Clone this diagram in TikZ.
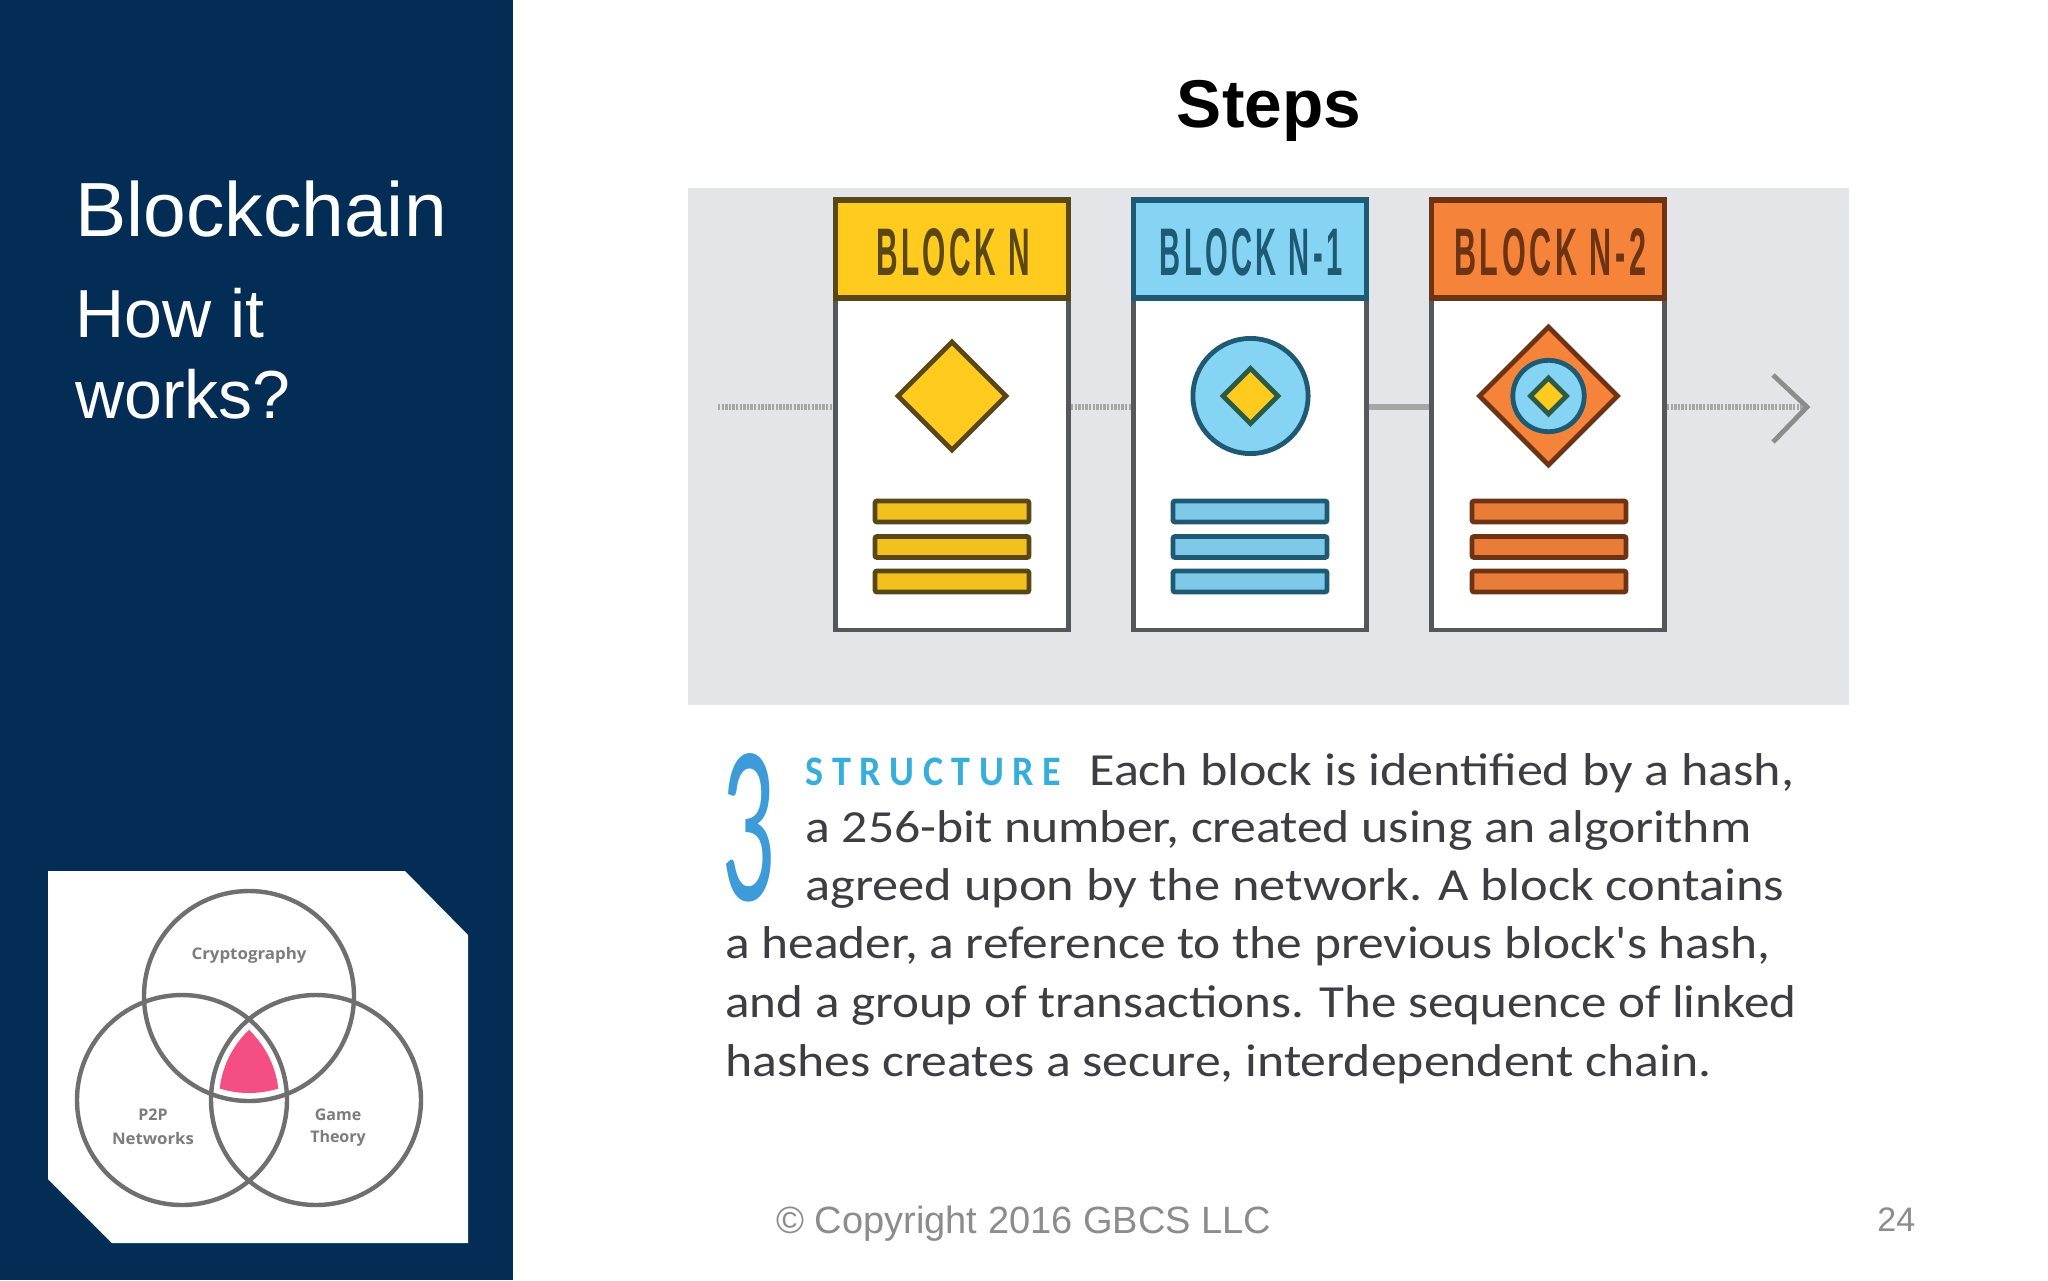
\documentclass[tikz,border=0pt]{standalone}
\usepackage{fontspec}
\usepackage{graphicx}
\setmainfont{Liberation Sans}
\newfontfamily\bodyf{Carlito}
\newfontfamily\lablf{Liberation Sans}[LetterSpace=12]
\newfontfamily\venf{Open Sans}
\newfontfamily\numf{Lato}
\newdimen\pxu \pxu=0.5pt
\newcommand{\fitw}[2]{\resizebox{#1\pxu}{\height}{#2}}
\newcommand{\fitb}[3]{\resizebox{#1\pxu}{#2\pxu}{#3}}
\definecolor{navy}{HTML}{032D54}
\definecolor{panel}{HTML}{E4E5E8}
\definecolor{ylw}{HTML}{FFCB1F}
\definecolor{sky}{HTML}{85D4F4}
\definecolor{org}{HTML}{F5843A}
\definecolor{ylwd}{HTML}{5A4716}
\definecolor{skyd}{HTML}{1F5A75}
\definecolor{orgd}{HTML}{6E3313}
\definecolor{edge}{HTML}{55575A}
\definecolor{txt}{HTML}{3E3E42}
\definecolor{copy}{HTML}{8C8C8C}
\definecolor{pink}{HTML}{F44E85}
\definecolor{vline}{HTML}{6F6F6F}
\definecolor{vtxt}{HTML}{7C7C7C}
\definecolor{numblue}{HTML}{3C9BD8}
\definecolor{headblue}{HTML}{36AEDC}
\definecolor{gemd}{HTML}{2B5A45}
\tikzset{
  x=0.5pt,y=-0.5pt,
  blockbody/.style={draw=edge,fill=white,line width=2.4pt,inner sep=0pt,minimum width=116.5pt,minimum height=215pt},
  blockhead/.style={draw=#1,line width=2.6pt,inner sep=0pt,minimum width=116.5pt,minimum height=49pt},
  gem/.style={diamond,aspect=1,inner sep=0pt,draw=#1,line width=2.4pt},
  ring/.style={circle,inner sep=0pt,draw=#1,line width=2.4pt},
  bar/.style={draw=#1,line width=2.4pt,rounded corners=1pt,inner sep=0pt,minimum width=77pt,minimum height=10.5pt},
  link/.style={draw=gray!70,line width=2.8pt,dash pattern=on 1.2pt off 0.6pt},
  venn/.style={circle,draw=vline,line width=2.2pt,inner sep=0pt,minimum size=105pt},
  side/.style={text=white,anchor=base west,inner sep=0pt},
  para/.style={anchor=base west,inner sep=0pt,text=txt,font=\bodyf\fontsize{23}{25}\selectfont},
  vlab/.style={text=vtxt,inner sep=0pt,font=\venf\bfseries\fontsize{8}{9}\selectfont},
  blab/.style={inner sep=0pt,font=\lablf\bfseries\fontsize{20}{22}\selectfont}
}
\usetikzlibrary{shapes.geometric}
\begin{document}
\begin{tikzpicture}
\useasboundingbox (0,0) rectangle (2048,1280);
\fill[white] (0,0) rectangle (2048,1280);
\fill[navy] (0,0) rectangle (513,1280);
\node[side,font=\fontsize{38.4}{40}\selectfont] (t1) at (75,236) {Blockchain};
\node[side,font=\fontsize{34}{36}\selectfont] (t2) at (75,337) {How it};
\node[side,font=\fontsize{34}{36}\selectfont] (t3) at (75,418) {works?};
% venn card
\fill[white] (48,871) -- (405,871) -- (468,935) -- (468,1243) -- (112,1243) -- (48,1179) -- cycle;
\begin{scope}
\clip (249,996) circle (97);
\clip (182,1100) circle (97);
\fill[pink] (316,1100) circle (97);
\end{scope}
\node[venn] (vt) at (249,996) {};
\node[venn] (vl) at (182,1100) {};
\node[venn] (vr) at (316,1100) {};
\node[vlab] (c1) at (249,955) {\fitw{115}{Cryptography}};
\node[vlab] (c2) at (153,1115) {P2P};
\node[vlab] (c3) at (153,1138) {\fitw{82}{Networks}};
\node[vlab] (c4) at (338,1115) {Game};
\node[vlab] (c5) at (338,1138) {Theory};
% title
\node[inner sep=0pt,anchor=base,font=\bfseries\fontsize{33.8}{36}\selectfont] (title) at (1269,127) {Steps};
% panel
\fill[panel] (688,188) rectangle (1849,705);
% blocks
\node[blockbody] (bn) at (952,415) {};
\node[blockbody] (bm) at (1250,415) {};
\node[blockbody] (bo) at (1548,415) {};
\node[blockhead=ylwd,fill=ylw] (hn) at (952,249) {};
\node[blockhead=skyd,fill=sky] (hm) at (1250,249) {};
\node[blockhead=orgd,fill=org] (ho) at (1548,249) {};
\node[blab,text=ylwd] (ln) at (953,252) {\fitb{154}{47}{BLOCK N}};
\node[blab,text=skyd] (lm) at (1251,252) {\fitb{183}{47}{BLOCK N-1}};
\node[blab,text=orgd] (lo) at (1550,252) {\fitb{192}{47}{BLOCK N-2}};
% connectors
\coordinate (cs) at (718,407);
\coordinate (ce) at (1807,407);
\coordinate (ht) at (1773,375);
\coordinate (hb) at (1773,442);
\draw[link] (cs) -- (cs -| bn.west);
\draw[link] (bn.east |- cs) -- (bm.west |- cs);
\draw[draw=gray!70,line width=2.8pt] (bm.east |- cs) -- (bo.west |- cs);
\draw[link] (bo.east |- cs) -- (ce);
\draw[draw=gray!90,line width=2.4pt] (ht) -- (ce) -- (hb);
% icons
\node[gem=ylwd,fill=ylw,minimum size=55pt] (dn) at (952,396) {};
\node[ring=skyd,fill=sky,minimum size=57.6pt] (rm) at (1250.5,396) {};
\node[gem=gemd,fill=ylw,minimum size=28.5pt] (dm) at (1250.5,396) {};
\node[gem=orgd,fill=org,minimum size=70pt] (do) at (1548.5,396) {};
\node[ring=skyd,fill=sky,minimum size=35.7pt] (ro) at (1548.5,396) {};
\node[gem=gemd,fill=ylw,minimum size=19pt] (dp) at (1548.5,396) {};
% bars
\foreach \y/\n in {511.5/a,547/b,581.5/c}{
  \node[bar=ylwd,fill=ylw!95!black] (bn\n) at (952,\y) {};
  \node[bar=skyd,fill=sky!95!black] (bm\n) at (1250,\y) {};
  \node[bar=orgd,fill=org!95!black] (bo\n) at (1549,\y) {};
}
% text
\node[anchor=center,inner sep=0pt,text=numblue,font=\numf\fontsize{60}{60}\selectfont] (three) at (749,828) {\fitb{54}{147}{3}};
\node[para,text=headblue,font=\bodyf\bfseries\fontsize{21}{23}\selectfont] (s0) at (805,785) {\fitw{256}{S T R U C T U R E}};
\node[para] (s1) at (1089,785) {\fitw{705}{Each block is identified by a hash,}};
\node[para] (s2) at (805,842) {\fitw{946}{a 256-bit number, created using an algorithm}};
\node[para] (s3) at (805,900) {\fitw{979}{agreed upon by the network. A block contains}};
\node[para] (s4) at (725,958) {\fitw{1045}{a header, a reference to the previous block's hash,}};
\node[para] (s5) at (725,1017) {\fitw{1071}{and a group of transactions. The sequence of linked}};
\node[para] (s6) at (725,1076) {\fitw{986}{hashes creates a secure, interdependent chain.}};
% footer
\node[inner sep=0pt,anchor=base west,text=copy,font=\fontsize{19}{21}\selectfont] (cp) at (776,1233) {© Copyright 2016 GBCS LLC};
\node[inner sep=0pt,anchor=base west,text=copy,font=\fontsize{17}{19}\selectfont] (pg) at (1877,1231) {24};
\end{tikzpicture}
\end{document}
